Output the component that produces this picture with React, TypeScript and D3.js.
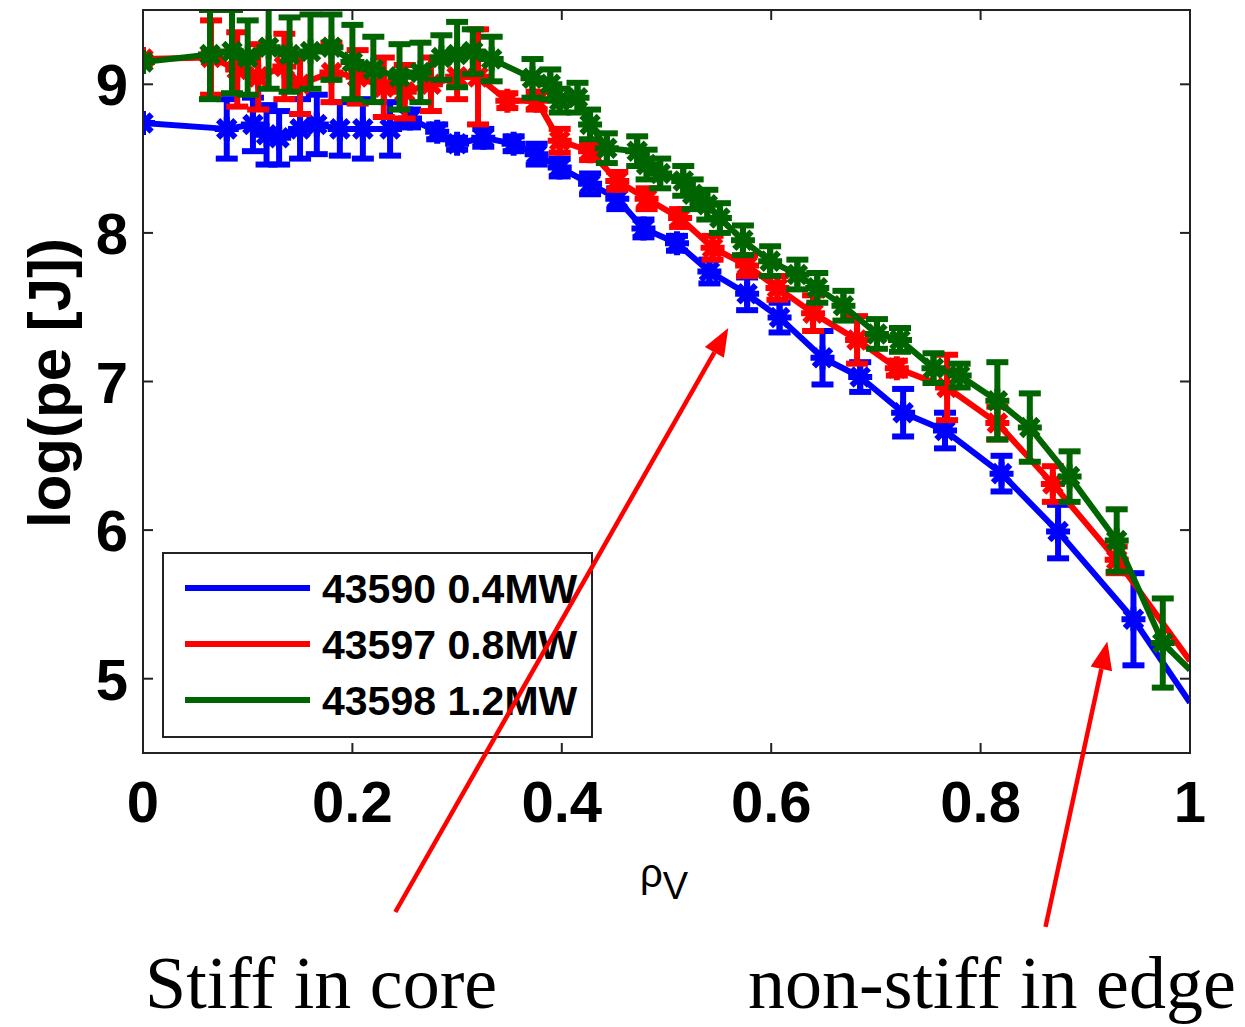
import React from 'react';
import * as d3 from 'd3';

// ---- data ----
const blueX = [0.0, 0.08, 0.105, 0.118, 0.13, 0.15, 0.166, 0.188, 0.21, 0.236, 0.255, 0.281, 0.3, 0.325, 0.354, 0.376, 0.398, 0.427, 0.453, 0.478, 0.51, 0.541, 0.577, 0.608, 0.649, 0.685, 0.726, 0.766, 0.82, 0.874, 0.946];
const blueY = [8.74, 8.7, 8.73, 8.66, 8.64, 8.7, 8.73, 8.7, 8.7, 8.7, 8.77, 8.68, 8.6, 8.64, 8.6, 8.53, 8.44, 8.33, 8.23, 8.03, 7.93, 7.74, 7.59, 7.43, 7.16, 7.03, 6.79, 6.67, 6.38, 5.99, 5.4];
const blueErr = [0, 0.2, 0.18, 0.2, 0.18, 0.2, 0.2, 0.18, 0.2, 0.18, 0.06, 0.05, 0.04, 0.06, 0.05, 0.07, 0.06, 0.07, 0.07, 0.06, 0.05, 0.08, 0.11, 0.1, 0.18, 0.1, 0.16, 0.12, 0.12, 0.18, 0.31];
const blueEdge = 4.84;

const redX = [0.0, 0.065, 0.09, 0.11, 0.135, 0.15, 0.18, 0.205, 0.23, 0.25, 0.275, 0.3, 0.32, 0.348, 0.376, 0.398, 0.427, 0.453, 0.481, 0.513, 0.544, 0.577, 0.606, 0.64, 0.682, 0.72, 0.768, 0.816, 0.869, 0.93];
const redY = [9.17, 9.18, 9.1, 9.05, 9.12, 9.0, 9.08, 9.05, 8.98, 8.95, 9.0, 9.05, 9.05, 8.89, 8.89, 8.62, 8.55, 8.35, 8.23, 8.1, 7.9, 7.78, 7.63, 7.46, 7.28, 7.09, 6.96, 6.72, 6.31, 5.8];
const redErr = [0, 0.25, 0.25, 0.22, 0.22, 0.2, 0.2, 0.18, 0.2, 0.18, 0.18, 0.15, 0.32, 0.05, 0.06, 0.08, 0.06, 0.06, 0.07, 0.06, 0.08, 0.07, 0.08, 0.12, 0.16, 0.05, 0.22, 0.11, 0.12, 0.09];
const redEdge = 5.12;

const greenX = [0.0, 0.064, 0.085, 0.1, 0.12, 0.14, 0.16, 0.18, 0.2, 0.22, 0.245, 0.265, 0.285, 0.3, 0.315, 0.333, 0.372, 0.389, 0.398, 0.415, 0.427, 0.443, 0.472, 0.481, 0.494, 0.516, 0.525, 0.539, 0.551, 0.573, 0.599, 0.625, 0.644, 0.669, 0.701, 0.723, 0.755, 0.78, 0.816, 0.847, 0.885, 0.93, 0.974];
const greenY = [9.15, 9.2, 9.22, 9.18, 9.25, 9.2, 9.22, 9.25, 9.15, 9.1, 9.05, 9.08, 9.18, 9.2, 9.22, 9.17, 9.04, 9.0, 8.89, 8.91, 8.73, 8.57, 8.55, 8.46, 8.4, 8.35, 8.26, 8.19, 8.1, 7.95, 7.81, 7.72, 7.63, 7.51, 7.32, 7.28, 7.09, 7.04, 6.87, 6.69, 6.36, 5.93, 5.24];
const greenErr = [0, 0.3, 0.28, 0.25, 0.28, 0.25, 0.25, 0.22, 0.25, 0.22, 0.22, 0.2, 0.15, 0.22, 0.15, 0.15, 0.13, 0.1, 0.08, 0.1, 0.1, 0.1, 0.1, 0.1, 0.1, 0.1, 0.1, 0.1, 0.1, 0.1, 0.1, 0.1, 0.1, 0.1, 0.1, 0.08, 0.1, 0.08, 0.26, 0.23, 0.17, 0.21, 0.3];
const greenEdge = 5.06;

const seriesNames = ['43590 0.4MW', '43597 0.8MW', '43598 1.2MW'];
const seriesColors = ['#0000ff', '#ff0000', '#006400'];

const xTicks = [0, 0.2, 0.4, 0.6, 0.8, 1];
const xTickLabels = ['0', '0.2', '0.4', '0.6', '0.8', '1'];
const yTicks = [5, 6, 7, 8, 9];
const yTickLabels = ['5', '6', '7', '8', '9'];

// annotation arrows in data coords: [tailX, tailY, tipX, tipY]
const arrowCore = [0.241, 3.43, 0.559, 7.36];
const arrowEdge = [0.862, 3.33, 0.921, 5.25];
const annotationTexts = ['Stiff in core', 'non-stiff in edge'];

const W = 1245;
const H = 1027;
const L = 143, R = 1190, T = 10, B = 753;

export default function App() {
  const x = d3.scaleLinear().domain([0, 1]).range([L, R]);
  const y = d3.scaleLinear().domain([4.5, 9.5]).range([B, T]);

  const series = [
    { xs: blueX, ys: blueY, es: blueErr, edge: blueEdge },
    { xs: redX, ys: redY, es: redErr, edge: redEdge },
    { xs: greenX, ys: greenY, es: greenErr, edge: greenEdge },
  ];

  const line = d3.line<[number, number]>().x(d => x(d[0])).y(d => y(d[1]));
  const r = 12;
  const dd = r * 0.72;
  const star = (cx: number, cy: number) =>
    `M${cx - r},${cy}H${cx + r}M${cx},${cy - r}V${cy + r}M${cx - dd},${cy - dd}L${cx + dd},${cy + dd}M${cx - dd},${cy + dd}L${cx + dd},${cy - dd}`;

  const arrow = (a: number[], key: string) => {
    const x1 = x(a[0]), y1 = y(a[1]), x2 = x(a[2]), y2 = y(a[3]);
    const ang = Math.atan2(y2 - y1, x2 - x1);
    const hl = 28, hw = 11;
    const bx = x2 - hl * Math.cos(ang), by = y2 - hl * Math.sin(ang);
    const px = -Math.sin(ang) * hw, py = Math.cos(ang) * hw;
    return (
      <g key={key}>
        <line x1={x1} y1={y1} x2={bx} y2={by} stroke="#ff0000" strokeWidth={4.5} />
        <path d={`M${x2},${y2}L${bx + px},${by + py}L${bx - px},${by - py}Z`} fill="#ff0000" />
      </g>
    );
  };

  const tickFont = 'Liberation Sans, Arial, sans-serif';

  return (
    <svg width={W} height={H} style={{ position: 'absolute', left: 0, top: 0, background: '#fff' }}>
      <defs>
        <clipPath id="plotclip">
          <rect x={L} y={T} width={R - L} height={B - T} />
        </clipPath>
      </defs>
      <rect x={0} y={0} width={W} height={H} fill="#fff" />
      <g clipPath="url(#plotclip)">
        {series.map((s, si) => {
          const pts: [number, number][] = s.xs.map((v, i) => [v, s.ys[i]] as [number, number]);
          pts.push([1, s.edge]);
          const c = seriesColors[si];
          return (
            <g key={si}>
              <path d={line(pts) || ''} fill="none" stroke={c} strokeWidth={6} strokeLinejoin="round" />
              {s.xs.map((v, i) => {
                const cx = x(v);
                const e = s.es[i];
                const y0 = y(s.ys[i] - e), y1 = y(s.ys[i] + e);
                return (
                  <g key={i}>
                    {e > 0 && (
                      <g stroke={c} strokeWidth={6}>
                        <line x1={cx} x2={cx} y1={y0} y2={y1} />
                        <line x1={cx - 11} x2={cx + 11} y1={y0} y2={y0} />
                        <line x1={cx - 11} x2={cx + 11} y1={y1} y2={y1} />
                      </g>
                    )}
                    <path d={star(cx, y(s.ys[i]))} stroke={c} strokeWidth={6} fill="none" />
                  </g>
                );
              })}
            </g>
          );
        })}
      </g>
      {/* frame */}
      <rect x={L} y={T} width={R - L} height={B - T} fill="none" stroke="#222" strokeWidth={2} />
      {xTicks.map((t, i) => (
        <g key={'xt' + i}>
          <line x1={x(t)} x2={x(t)} y1={B} y2={B - 10} stroke="#222" strokeWidth={2} />
          <line x1={x(t)} x2={x(t)} y1={T} y2={T + 10} stroke="#222" strokeWidth={2} />
          <text x={x(t)} y={822} textAnchor="middle" fontFamily={tickFont} fontWeight="bold" fontSize={58} fill="#000">{xTickLabels[i]}</text>
        </g>
      ))}
      {yTicks.map((t, i) => (
        <g key={'yt' + i}>
          <line x1={L} x2={L + 10} y1={y(t)} y2={y(t)} stroke="#222" strokeWidth={2} />
          <line x1={R} x2={R - 10} y1={y(t)} y2={y(t)} stroke="#222" strokeWidth={2} />
          <text x={128} y={y(t) + 21} textAnchor="end" fontFamily={tickFont} fontWeight="bold" fontSize={58} fill="#000">{yTickLabels[i]}</text>
        </g>
      ))}
      <text transform={`translate(70,383) rotate(-90)`} textAnchor="middle" fontFamily={tickFont} fontWeight="bold" fontSize={60} fill="#000">log(pe [J])</text>
      <text x={640} y={887} fontFamily={tickFont} fontSize={40} fill="#000">ρ<tspan dy={12} fontSize={38}>V</tspan></text>
      {/* legend */}
      <rect x={163} y={553} width={429} height={184} fill="#fff" stroke="#222" strokeWidth={2} />
      {seriesNames.map((n, i) => (
        <g key={'lg' + i}>
          <line x1={185} x2={310} y1={588 + i * 56} y2={588 + i * 56} stroke={seriesColors[i]} strokeWidth={6} />
          <text x={322} y={603 + i * 56} fontFamily={tickFont} fontWeight="bold" fontSize={41} fill="#000">{n}</text>
        </g>
      ))}
      {arrow(arrowCore, 'a1')}
      {arrow(arrowEdge, 'a2')}
      <text x={145} y={1008} fontFamily="Liberation Serif, Times New Roman, serif" fontSize={74} fill="#000">{annotationTexts[0]}</text>
      <text x={748} y={1008} fontFamily="Liberation Serif, Times New Roman, serif" fontSize={74} fill="#000">{annotationTexts[1]}</text>
    </svg>
  );
}
